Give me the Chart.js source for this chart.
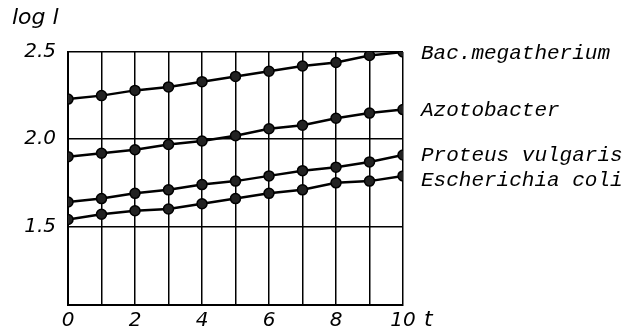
<!DOCTYPE html>
<html>
<head>
<meta charset="utf-8">
<script src="https://cdn.jsdelivr.net/npm/chart.js@4"></script>
<style>
  html, body { margin: 0; padding: 0; background: #fff; }
  #wrap { width: 635px; height: 330px; position: relative; }
</style>
</head>
<body>
<div id="wrap"><canvas id="chart"></canvas></div>
<script>
// time axis
const tValues = [0, 1, 2, 3, 4, 5, 6, 7, 8, 9, 10];
const yTicks = [1.5, 2.0, 2.5];

// log l per organism
const megatherium = [2.23, 2.25, 2.28, 2.30, 2.33, 2.36, 2.39, 2.42, 2.44, 2.48, 2.50];
const azotobacter = [1.90, 1.92, 1.94, 1.97, 1.99, 2.02, 2.06, 2.08, 2.12, 2.15, 2.17];
const proteus     = [1.64, 1.66, 1.69, 1.71, 1.74, 1.76, 1.79, 1.82, 1.84, 1.87, 1.91];
const coli        = [1.54, 1.57, 1.59, 1.60, 1.63, 1.66, 1.69, 1.71, 1.75, 1.76, 1.79];

const seriesNames = ['Bac.megatherium', 'Azotobacter', 'Proteus vulgaris', 'Escherichia coli'];
const seriesData = [megatherium, azotobacter, proteus, coli];

const FONT = '"DejaVu Sans"';

const mkSet = (name, vals) => ({
  label: name,
  data: vals.map((v, i) => ({ x: tValues[i], y: v })),
  borderColor: '#000',
  borderWidth: 2.5,
  pointRadius: 5,
  pointBackgroundColor: '#222',
  pointBorderColor: '#000',
  pointBorderWidth: 1.5,
  tension: 0
});

// labels at line ends, axis names
const labelPlugin = {
  id: 'labels',
  afterDraw(chart) {
    const ctx = chart.ctx;
    const xs = chart.scales.x, ys = chart.scales.y;
    const nudge = [0, 0, -1, 4]; // keep the two lower names apart
    ctx.save();
    ctx.fillStyle = '#000';
    ctx.textBaseline = 'middle';
    ctx.font = 'italic 21px "Liberation Mono"';
    chart.data.datasets.forEach((ds, i) => {
      const last = ds.data[ds.data.length - 1];
      ctx.fillText(ds.label, xs.getPixelForValue(last.x) + 18, ys.getPixelForValue(last.y) + 1 + nudge[i]);
    });
    ctx.font = 'italic 22px ' + FONT;
    ctx.fillText('log l', 12, 18);
    ctx.fillText('t', 424, 320);
    ctx.restore();
  }
};

new Chart(document.getElementById('chart'), {
  type: 'line',
  data: { datasets: seriesData.map((d, i) => mkSet(seriesNames[i], d)) },
  options: {
    responsive: true,
    maintainAspectRatio: false,
    animation: false,
    layout: { padding: { top: 52, right: 232, left: 0, bottom: 0 } },
    plugins: { legend: { display: false }, tooltip: { enabled: false } },
    scales: {
      x: {
        type: 'linear', min: 0, max: 10,
        afterFit(s) { s.height = 25; },
        ticks: {
          stepSize: 1, autoSkip: false, maxRotation: 0, padding: 4,
          color: '#000', font: { family: FONT, size: 20, style: 'italic' },
          callback: v => (v % 2 === 0 ? v : '')
        },
        grid: { color: '#000', lineWidth: 1.5, drawTicks: false },
        border: { color: '#000', width: 2 }
      },
      y: {
        type: 'linear', min: 1.05, max: 2.5,
        afterFit(s) { s.width = 68; },
        afterBuildTicks(s) { s.ticks = yTicks.map(v => ({ value: v })); },
        ticks: {
          padding: 12, color: '#000',
          font: { family: FONT, size: 20, style: 'italic' },
          callback: v => v.toFixed(1)
        },
        grid: { color: '#000', lineWidth: 1.5, drawTicks: false },
        border: { color: '#000', width: 2 }
      }
    }
  },
  plugins: [labelPlugin]
});
</script>
</body>
</html>
